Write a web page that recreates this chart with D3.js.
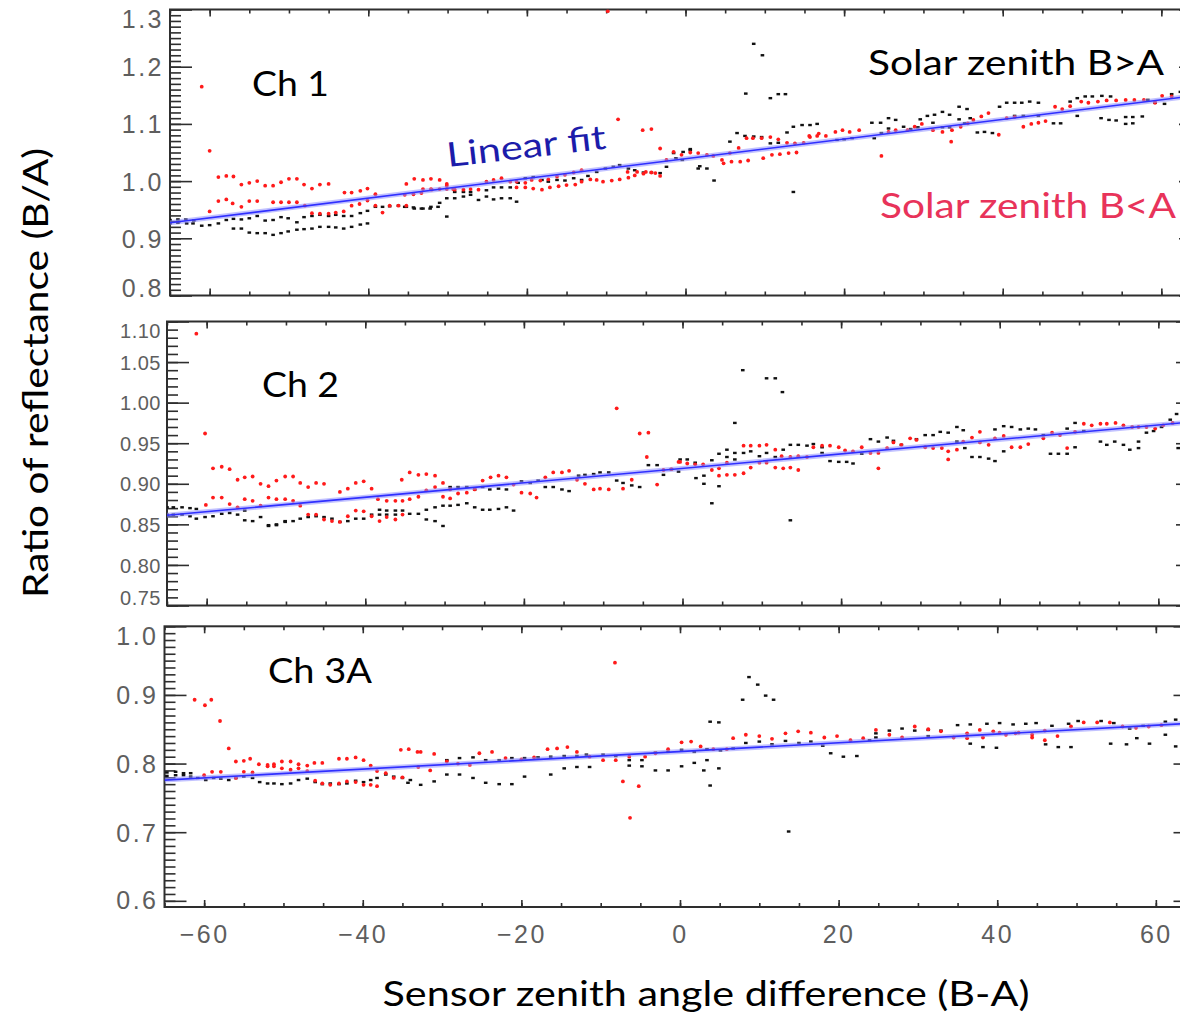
<!DOCTYPE html>
<html>
<head>
<meta charset="utf-8">
<script src="https://cdn.jsdelivr.net/npm/d3@7/dist/d3.min.js"></script>
<style>
  html, body { margin: 0; padding: 0; background: #fff; }
  svg { display: block; }
  .tick text { font-family: "Liberation Sans", Arial, sans-serif; }
</style>
</head>
<body>
<svg id="chart" width="1180" height="1016"></svg>
<script>
// ---- Data -------------------------------------------------------------
// Each point: [sensor zenith angle difference (B-A), ratio of reflectance (B/A)]

const xMajorTicks = [-60, -40, -20, 0, 20, 40, 60];
const ch1Ticks = [0.8, 0.9, 1.0, 1.1, 1.2, 1.3];
const ch2Ticks = [0.75, 0.80, 0.85, 0.90, 0.95, 1.00, 1.05, 1.10];
const ch3Ticks = [0.6, 0.7, 0.8, 0.9, 1.0];

const channelNames = ["Ch 1", "Ch 2", "Ch 3A"];

// Linear fit per channel: ratio = intercept + slope * angle
const fitIntercepts = [1.039, 0.919, 0.8175];
const fitSlopes = [0.00172, 0.00089, 0.00064];

// Ch 1, solar zenith B>A
const ch1Above = [
[-65,.926],[-64,.927],[-62.9,.926],[-62.1,.926],[-61,.922],[-60,.923],[-58.9,.926],[-57.9,.932],[-57,.934],[-56,.933],
[-55,.935],[-54,.939],[-53,.931],[-52,.932],[-51,.937],[-50.1,.935],[-49,.928],[-48.1,.937],[-47.1,.939],[-46.1,.941],
[-45,.939],[-44.1,.941],[-43.1,.939],[-42.1,.939],[-41,.944],[-40.1,.948],[-39.1,.955],[-38.2,.955],[-37.3,.956],[-36.2,.957],
[-35.2,.955],[-34.2,.952],[-33.1,.952],[-32.1,.955],[-31,.962],
[-65,.932],[-64,.933],[-63,.933],[-62,.931],
[-57,.917],[-56,.917],[-55,.910],[-54,.909],[-53,.909],[-52,.906],[-51,.909],[-50.1,.912],[-49,.915],[-48.1,.916],
[-47.1,.917],[-46.1,.920],[-45,.920],[-44.1,.919],[-43.1,.917],[-42.1,.920],[-41,.924],[-40.1,.926],
[-35.4,.955],[-34.3,.954],[-33.3,.952],[-32.2,.952],[-31.2,.955],[-30.1,.938],
[-30.1,.970],[-29.1,.970],[-28,.973],[-27.1,.976],[-26.1,.967],[-25.1,.973],[-24.2,.968],[-23.2,.970],[-22.1,.970],[-21.3,.964],
[-29.1,.981],[-28,.981],[-27.1,.981],[-25.1,.984],[-24.2,.989],[-23.2,.989],[-22.1,.989],[-21.1,.997],[-20.2,1.005],[-19.2,1.007],
[-18.1,1.002],[-17.3,.999],[-16.2,1.002],[-15.2,1.001],[-14.1,1.005],[-13.1,1.002],[-12.3,1.009],[-11.2,1.016],[-10.1,1.022],[-9.1,1.025],
[-8.3,1.028],[-7.2,1.022],[-6.4,1.019],[-5.3,1.015],[-4.3,1.015],[-3.2,1.014],[-2.4,1.025],
[-1.5,1.049],[-0.3,1.051],[0.6,1.056],[1.6,1.022],[2.7,1.022],[3.6,1.001],[-1.2,1.040],[-0.4,1.037],[0.6,1.054],[1.8,1.026],
[5.6,1.069],[6.5,1.084],[7.5,1.079],[8.6,1.078],[9.6,1.077],[10.7,1.066],[11.7,1.067],[12.8,1.085],[13.6,1.095],[14.7,1.098],
[15.7,1.098],[16.6,1.100],[13.6,.981],
[8.6,1.240],[9.7,1.220],[7.6,1.153],[10.7,1.145],[11.7,1.152],[12.6,1.152],
[19.1,1.072],[20,1.073],[21,1.075],[23.8,1.075],[24.7,1.084],[25.6,1.092],[27.5,1.095],[28.4,1.091],[29.3,1.094],[31.2,1.102],
[32.4,1.094],[33.3,1.094],[34.5,1.108],[35.2,1.101],[35.9,1.110],
[23.5,1.102],[24.6,1.102],[25.6,1.110],[26.5,1.107],[29.6,1.108],[30.5,1.114],[31.4,1.116],[32.4,1.121],[33.3,1.116],[34.5,1.130],
[35.5,1.126],[39.6,1.130],[40.5,1.137],[41.5,1.137],[42.4,1.137],[43.4,1.139],[44.5,1.137],[48.5,1.139],[49.4,1.145],[50.4,1.148],
[51.3,1.148],[52.5,1.149],[53.6,1.148],[58.3,1.142],[59.2,1.137],[60.4,1.135],[61.3,1.152],[62.4,1.156],
[36.8,1.085],[37.7,1.086],[38.7,1.084],[41.5,1.114],[42.6,1.114],[44.5,1.114],[46.4,1.101],[47.3,1.101],[49.4,1.114],[52.4,1.110],
[53.4,1.107],[54.3,1.106],[55.5,1.112],[56.4,1.112],[57.6,1.113],[56.4,1.101],[55.5,1.100]
];

// Ch 1, solar zenith B<A
const ch1Below = [
[-61,1.165],[-60,1.053],[-60,.947],[-9.8,1.297],[-8.5,1.108],[-5.4,1.089],[-4.3,1.091],[-3.2,1.057],[24.7,1.044],[33.5,1.069],[39.5,1.081],
[-58.9,1.007],[-57.9,1.009],[-57,1.008],[-56,.994],[-55,.997],[-54,1.000],[-53,.992],[-52,.992],[-51,.998],[-50,1.004],
[-49,1.004],[-48.1,.994],[-47.1,.987],[-46.1,.994],[-45,.995],
[-58.9,.965],[-57.9,.968],[-57.1,.961],[-56,.955],[-55,.965],[-54,.965],[-52,.963],[-51,.963],[-50,.963],[-49,.963],
[-48,.957],[-47.1,.944],[-46.1,.943],[-45,.943],[-44.1,.945],[-43.1,.947],
[-43,.980],[-42.1,.980],[-41,.983],[-40.1,.987],[-39.1,.977],
[-42.1,.957],[-41.1,.960],[-40.1,.966],[-39.1,.957],[-38.2,.945],[-37.3,.957],[-36.2,.957],[-35.2,.957],
[-35.2,.995],[-34.2,1.004],[-33.1,1.002],[-32.1,1.004],[-31,1.002],[-30.1,.995],
[-33.1,.986],[-32.1,.986],[-31,.986],[-30.1,.986],[-29.3,.986],
[-35.4,.976],[-34.3,.977],[-33.3,.979],[-32,.985],[-30.1,.992],[-29.1,.985],[-28,.985],[-27.1,.986],[-26.1,.985],[-25.1,.999],
[-24.2,1.002],[-23.2,1.005],[-22.1,.999],[-21.3,.999],[-20.2,.997],[-19.4,1.002],[-18.3,1.001],[-17.3,1.003],[-16.2,1.008],[-15.2,1.011],
[-14.1,1.015],[-13.1,1.019],
[-21.3,.989],[-20.2,.989],[-19.2,.987],[-18.1,.985],[-17.1,.989],[-16,.991],[-15,.993],[-13.9,.994],[-13.1,.999],[-12,1.003],
[-11.2,1.002],[-10.4,.999],[-9.3,1.001],[-8.3,1.003],[-7.2,1.006],[-6.4,1.010],[-5.3,1.013],[-4.3,1.015],[-3.2,1.009],
[-7.3,1.016],[-6.1,1.016],[-5,1.016],[-3.8,1.014],
[-2.4,1.037],[-1.5,1.051],[-0.5,1.046],[0.6,1.050],[1.6,1.049],[2.7,1.046],[3.5,1.044],[4.6,1.037],[5.6,1.049],[6.7,1.058],
[7.7,1.075],[8.5,1.075],[9.6,1.075],[10.7,1.077],[11.7,1.073],[12.8,1.067],[13.8,1.066],[14.9,1.067],[15.7,1.077],[16.6,1.079],
[4.8,1.031],[5.8,1.034],[6.9,1.034],[7.9,1.036],[9.8,1.040],[10.9,1.046],[11.9,1.047],[13,1.049],[14,1.050],
[15.6,1.079],[16.8,1.083],[17.7,1.079],[18.9,1.086],[19.8,1.089],[20.7,1.086],[21.9,1.089],[25.6,1.086],[26.5,1.089],[28,1.089],
[28.9,1.095],[29.8,1.100],[31.2,1.089],[32.4,1.086],[33.6,1.089],[34.7,1.095],[35.6,1.101],[36.3,1.107],[37.3,1.113],[38.2,1.119],
[40.5,1.110],[41.5,1.112],[42.6,1.095],[43.6,1.100],[44.5,1.102],[45.4,1.105],[46.6,1.130],[47.5,1.126],[48.5,1.131],[49.9,1.139],
[50.8,1.137],[52,1.139],[53.1,1.141],[54.3,1.141],[55.5,1.142],[56.6,1.142],[57.8,1.142],[59.2,1.137],[60.1,1.149],[61.3,1.148]
];

// Ch 2, solar zenith B>A
const ch2Above = [
[-65,.871],[-64.2,.871],[-63.1,.871],[-62.1,.870],[-61.3,.869],
[-65,.862],[-64.2,.862],[-63.1,.862],[-62.1,.860],[-61.3,.857],[-60.2,.859],[-59.2,.860],[-58.1,.863],[-57.1,.864],[-56.1,.862],[-55.2,.867],
[-55.2,.855],[-54.2,.854],[-53.2,.859],[-52.2,.849],[-51.2,.850],[-50.1,.854],[-49.1,.854],[-48.2,.857],[-47.2,.859],[-46.2,.860],
[-45.2,.859],[-44.2,.857],[-43.2,.853],[-42.2,.854],[-41.2,.857],[-40.2,.857],[-39.2,.862],[-38.2,.868],[-37.3,.867],[-36.2,.867],[-35.3,.867],
[-52.2,.848],[-51.2,.849],[-50.1,.853],
[-38.2,.862],[-37.3,.862],[-36.2,.862],[-34.4,.863],[-33.3,.863],[-32.3,.856],[-31.2,.854],[-30.2,.848],
[-32.3,.868],[-31.2,.871],[-30.2,.873],[-29.3,.873],[-28.3,.874],[-27.2,.876],[-26.2,.871],[-25.2,.868],[-24.3,.868],[-23.2,.869],
[-22.2,.871],[-21.3,.867],
[-29.3,.896],[-28.3,.896],[-27.2,.896],[-26.2,.893],[-25.2,.896],[-24.3,.893],[-23.2,.894],[-22.2,.893],[-20.3,.903],[-19.2,.901],
[-18.2,.904],[-17.3,.896],[-16.3,.896],[-15.2,.893],[-14.3,.891],[-13.1,.910],[-12.3,.911],[-11.2,.912],[-10.4,.914],[-9.3,.914],
[-8.3,.904],[-7.5,.901],[-6.4,.898],[-5.4,.896],[-4.3,.923],[-3.2,.923],[-2.4,.911],[-1.4,.918],[-0.5,.915],
[7.6,1.040],[10.6,1.030],[11.7,1.030],[12.6,1.013],[6.6,.975],[13.6,.855],[3.7,.876],[4.6,.897],
[-0.3,.930],[0.6,.930],[1.6,.926],[2.7,.910],[1.7,.907],[2.7,.900],[3.7,.929],[4.6,.937],[5.6,.942],[5.6,.933],
[6.6,.938],[6.6,.930],[7.7,.938],[8.6,.940],[9.7,.934],[10.6,.938],[11.7,.933],[12.7,.942],[13.6,.948],[14.6,.948],
[15.7,.947],[16.5,.949],[17.6,.945],[17.6,.938],[18.6,.928],[19.7,.927],[20.7,.927],[21.5,.925],[22.6,.937],[23.7,.955],
[24.7,.952],[25.8,.957],[26.6,.953],[27.6,.948],[29.5,.955],[30.6,.960],[31.6,.960],[32.5,.964],[33.5,.963],[34.6,.970],
[35.4,.966],[34.6,.952],[35.6,.944],[36.5,.933],[37.5,.933],[38.6,.931],[39.4,.928],[39.4,.967],[40.5,.971],[41.5,.970],
[42.6,.967],[43.6,.968],[44.5,.967],[40.5,.940],[45.5,.960],[46.4,.937],[47.4,.937],[48.5,.937],[48.5,.968],[49.5,.975],
[49.5,.945],[50.6,.965],[52.7,.952],[53.5,.948],[54.5,.952],[55.6,.948],[56.4,.942],[57.5,.944],[57.5,.952],[58.5,.963],
[59.4,.965],[60.4,.970],[61.5,.979],[62.3,.986],[62.5,.944]
];

// Ch 2, solar zenith B<A
const ch2Below = [
[-61.3,1.085],[-60.2,.962],
[-59.2,.919],[-58.1,.921],[-57.1,.918],[-56.1,.905],[-55.2,.908],[-54.2,.909],[-53.2,.900],[-52.2,.897],[-51.2,.904],[-50.1,.909],
[-49.1,.909],[-48.2,.901],[-47.2,.896],[-46.2,.901],[-45.2,.900],[-43.2,.890],[-42.2,.894],[-41.2,.901],[-40.2,.903],[-39.2,.894],
[-60.1,.874],[-59.2,.883],[-58.1,.883],[-57.1,.875],[-56.1,.871],[-55.2,.881],[-54.2,.879],[-53.2,.873],[-52.2,.883],[-51.2,.881],
[-50.1,.881],[-49.1,.879],[-48.2,.873],[-47.2,.862],[-46.2,.862],[-45.2,.856],[-44.2,.854],[-43.2,.853],[-42.2,.860],[-41.2,.867],
[-40.2,.866],[-39.2,.860],[-38.2,.854],[-37.3,.859],[-36.2,.856],[-35.3,.862],
[-38.4,.881],[-37.3,.879],[-36.2,.879],[-35.3,.879],[-34.4,.881],[-33.3,.884],[-32.3,.892],[-31.2,.896],[-30.2,.884],[-29.3,.882],
[-35.4,.905],[-34.4,.914],[-33.3,.911],[-32.3,.912],[-31.2,.910],[-30.2,.901],
[-29.3,.893],[-28.3,.888],[-27.2,.889],[-26.2,.893],[-25.2,.904],[-24.2,.908],[-23.2,.910],[-22.2,.908],[-21.3,.899],[-20.3,.889],
[-19.2,.888],[-18.4,.883],[-17.3,.908],[-16.3,.914],[-15.2,.914],[-14.3,.916],[-13.3,.905],[-12.3,.900],[-11.2,.893],[-10.4,.894],
[-9.3,.893],[-8.3,.993],[-7.5,.894],[-6.4,.905],[-5.4,.962],[-4.3,.963],[-4.5,.933],[-3.2,.899],[-2.4,.917],[-1.4,.918],[-0.5,.927],
[-0.3,.927],[0.6,.925],[1.6,.924],[2.6,.924],[3.7,.917],[4.6,.919],[4.6,.910],[5.6,.911],[6.6,.911],[7.7,.913],
[8.6,.920],[9.7,.926],[10.6,.926],[11.7,.920],[12.7,.919],[13.6,.920],[14.6,.917],[5.6,.926],[7.7,.947],[8.6,.947],
[9.7,.947],[10.6,.948],[11.7,.942],[12.5,.934],[13.6,.933],[14.6,.934],[15.7,.933],[16.5,.945],[17.6,.947],[18.6,.947],
[19.7,.945],[20.5,.941],[21.5,.940],[22.6,.945],[23.7,.938],[24.7,.938],[24.7,.919],[25.8,.944],[26.6,.951],[27.6,.948],
[28.7,.956],[29.5,.954],[30.6,.945],[31.6,.944],[32.7,.944],[33.5,.940],[33.5,.930],[34.6,.942],[35.4,.952],[36.5,.957],
[37.5,.964],[37.5,.951],[38.6,.948],[39.4,.956],[40.5,.959],[41.5,.945],[42.6,.945],[43.6,.949],[45.5,.956],[46.6,.963],
[47.6,.960],[48.5,.944],[49.5,.964],[50.6,.974],[51.6,.972],[52.7,.974],[53.5,.974],[54.6,.975],[55.6,.972],[56.7,.970],
[57.5,.970],[58.5,.970],[59.6,.968],[60.6,.972],[61.8,.975]
];

// Ch 3A, solar zenith B>A
const ch3Above = [
[8.7,.926],[9.8,.915],[10.8,.899],[11.8,.893],[7.9,.893],[3.8,.861],[4.9,.860],[3,.790],[4.9,.793],[3.8,.768],[13.7,.701],
[-64.7,.782],[-63.6,.783],[-62.6,.783],[-61.7,.781],[-60.8,.779],[-59.8,.776],[-58.8,.779],[-57.9,.778],[-56.9,.776],[-56,.779],
[-55,.781],[-53.9,.779],[-53,.773],[-52,.771],[-51.2,.771],[-50.2,.770],[-49.1,.771],[-48.1,.776],[-47,.778],[-46,.773],
[-45.1,.770],[-44.1,.771],[-43,.770],[-42,.771],[-40.9,.775],[-39.9,.773],[-39,.776],[-38.2,.779],[-37.1,.784],[-36.1,.781],
[-35,.779],[-34,.776],
[-64.7,.787],[-63.6,.788],[-62.6,.786],[-61.7,.786],
[-29.4,.805],[-27.8,.808],[-26.1,.809],[-24.5,.805],[-22.8,.805],[-21.2,.808],[-19.6,.808],[-17.9,.809],[-16.3,.810],[-14.6,.811],
[-13,.811],[-11.8,.813],[-9.7,.813],[-8.1,.811],[-6.4,.805],[-4.8,.805],[-3.1,.816],[-1.5,.817],[0.2,.820],[1.8,.817],
[3.4,.821],[5.1,.819],[6.7,.822],
[-29.4,.784],[-27.8,.784],[-26.1,.779],[-24.5,.772],[-22.8,.770],[-21.2,.770],[-31,.774],[-32.7,.769],[-34.3,.772],
[-19.6,.781],[-16.3,.784],[-14.6,.793],[-13,.795],[-11.4,.795],[-6.4,.797],[-4.8,.796],[-3.1,.790],[-1.5,.790],[0.2,.796],
[1.8,.801],[3.4,.805],
[8.3,.830],[10,.832],[11.6,.828],[13.3,.833],[15,.830],[16.5,.832],[18,.826],
[23.9,.834],[24.7,.838],[26.4,.848],[28,.851],[29.6,.848],[31.3,.849],[32.9,.848],[35,.856],[36.6,.857],[38.7,.858],
[40.3,.859],[42,.857],[43.6,.858],[44.9,.859],[46.9,.855],[49,.858],[50.2,.862],[53.1,.862],[54.7,.859],[56.7,.851],
[58.4,.855],[61.2,.861],[62.5,.864],[19,.815],[20.6,.810],[22.3,.811],[36.6,.829],[38.2,.824],[39.9,.823],[46.1,.828],
[47.7,.824],[49.3,.824],[54.3,.829],[56.3,.828],[57.6,.837],[59.2,.829],[61.2,.842],[62.5,.825],[24.7,.844],[31.3,.840]
];

// Ch 3A, solar zenith B<A
const ch3Below = [
[-61.2,.893],[-59.9,.885],[-59.1,.893],[-58,.862],[-56.9,.822],[-8.2,.947],[-7.2,.774],[-5.2,.767],[-6.3,.721],
[-56,.803],[-55,.804],[-54.2,.807],[-53.1,.799],[-52,.798],[-51.2,.799],[-50.2,.803],[-49.1,.803],[-48.1,.799],[-47,.797],
[-46.1,.801],[-45.1,.801],[-43,.807],[-42,.807],[-40.9,.809],[-39.9,.805],[-39,.797],[-35.2,.820],[-34.2,.821],[-33.1,.817],
[-60,.783],[-59,.788],[-57.9,.788],[-56,.779],[-55,.788],[-53.9,.787],[-52,.796],[-51.2,.796],[-50.2,.793],[-49.1,.791],
[-48.1,.793],[-47,.789],[-46,.775],[-45.1,.771],[-44.1,.769],[-43,.771],[-42,.774],[-40.9,.773],[-39.9,.769],[-39,.769],
[-38.2,.767],[-38.2,.789],[-37.1,.786],[-36.1,.779],[-35,.780],
[-32.7,.817],[-31,.814],[-29.4,.803],[-33,.795],[-31.5,.790],[-28,.800],[-26.5,.798],
[-25.3,.815],[-23.7,.817],[-22,.808],[-20,.806],[-18.4,.809],[-16.7,.821],[-15.5,.822],[-14.2,.824],[-13,.817],[-11.4,.810],
[-9.7,.805],[-8.1,.805],[-6.4,.810],[-4.4,.810],[-3.1,.815],[-1.5,.821],[0.2,.831],[1.4,.832],[2.6,.825],[4.2,.821],
[5.9,.821],[6.7,.837],[8.3,.842],[10,.840],[11.6,.836],[13.3,.844],[14.9,.847],[16.5,.845],[18.2,.838],[19.8,.840],[21.5,.834],
[23.1,.837],[24.7,.849],[26.4,.842],[28,.838],[29.6,.854],[31.3,.850],[32.9,.847],[34.5,.838],[36.2,.844],[37.8,.849],
[39.5,.847],[41.1,.842],[42.7,.845],[44.4,.842],[46,.848],[47.6,.840],[49.3,.854],[50.9,.860],[52.6,.860],[54.2,.860],
[55.8,.854],[57.5,.852],[59.1,.854],[60.7,.856],[36.2,.837],[38.2,.838],[40.3,.845],[42.3,.844],[44.4,.838],[46,.834]
];

// ---- Layout ---------------------------------------------------------------
const xDomain = [-65, 65];
const plotWidth = 1031;

const panels = [
  { name: channelNames[0], left: 170,   top: 9.5,   bottom: 295.5, yDomain: [0.8, 1.3],   ticks: ch1Ticks, fmt: ".1f",
    above: ch1Above, below: ch1Below, label: [252, 96], labelWidth: 77, tickFont: 25, tickSpacing: 2.5 },
  { name: channelNames[1], left: 167,   top: 321.5, bottom: 605.5, yDomain: [0.75, 1.10], ticks: ch2Ticks, fmt: ".2f",
    above: ch2Above, below: ch2Below, label: [262, 397], labelWidth: 77, tickFont: 20, tickSpacing: 0.5 },
  { name: channelNames[2], left: 164.5, top: 626.3, bottom: 907,   yDomain: [0.591, 1.0], ticks: ch3Ticks, fmt: ".1f",
    above: ch3Above, below: ch3Below, label: [268, 683], labelWidth: 104, tickFont: 25, tickSpacing: 2.5 }
];

const svg = d3.select("#chart");
const defs = svg.append("defs");
const annoFont = "Lato, 'Open Sans', sans-serif";
const frameColor = "#2e2e2e";
const labelColor = "#5e5e5e";

panels.forEach((p, i) => {
  const x = d3.scaleLinear().domain(xDomain).range([p.left, p.left + plotWidth]);
  const y = d3.scaleLinear().domain(p.yDomain).range([p.bottom, p.top]);
  const g = svg.append("g");

  const clipId = "clip" + i;
  defs.append("clipPath").attr("id", clipId)
    .append("rect")
    .attr("x", p.left).attr("y", p.top)
    .attr("width", plotWidth).attr("height", p.bottom - p.top);

  // minor ticks every 0.01 on the ratio axis, every 5 degrees on the angle axis
  const yMinor = d3.range(Math.ceil(p.yDomain[0] * 100 - 1e-6), Math.floor(p.yDomain[1] * 100 + 1e-6) + 1)
    .map(v => v / 100);
  const xMinor = d3.range(-65, 66, 5);

  const styleAxis = sel => {
    sel.select(".domain").remove();
    sel.selectAll(".tick line").attr("stroke", frameColor).attr("stroke-width", 1.6);
  };

  // left axis: minor + major ticks pointing inward, labels outside
  g.append("g").attr("transform", `translate(${p.left},0)`)
    .call(d3.axisLeft(y).tickValues(yMinor).tickSize(-11).tickFormat(""))
    .call(styleAxis);
  const leftMajor = g.append("g").attr("transform", `translate(${p.left},0)`)
    .call(d3.axisLeft(y).tickValues(p.ticks).tickSize(-22).tickPadding(6).tickFormat(d3.format(p.fmt)))
    .call(styleAxis);
  // labels are centred on their ticks, but kept inside the frame's height
  leftMajor.selectAll(".tick text")
    .attr("font-size", p.tickFont).attr("fill", labelColor)
    .attr("letter-spacing", p.tickSpacing + "px")
    .attr("dy", "0.36em")
    .attr("y", d => {
      const c = y(d);
      const lo = p.top + 9, hi = p.bottom - 8;
      return Math.min(hi, Math.max(lo, c)) - c;
    });

  // right axis
  g.append("g").attr("transform", `translate(${p.left + plotWidth},0)`)
    .call(d3.axisRight(y).tickValues(yMinor).tickSize(-11).tickFormat(""))
    .call(styleAxis);
  g.append("g").attr("transform", `translate(${p.left + plotWidth},0)`)
    .call(d3.axisRight(y).tickValues(p.ticks).tickSize(-22).tickFormat(""))
    .call(styleAxis);

  // top and bottom angle ticks
  g.append("g").attr("transform", `translate(0,${p.top})`)
    .call(d3.axisTop(x).tickValues(xMinor).tickSize(-4).tickFormat(""))
    .call(styleAxis);
  g.append("g").attr("transform", `translate(0,${p.top})`)
    .call(d3.axisTop(x).tickValues(xMajorTicks).tickSize(-7).tickFormat(""))
    .call(styleAxis);
  g.append("g").attr("transform", `translate(0,${p.bottom})`)
    .call(d3.axisBottom(x).tickValues(xMinor).tickSize(-4).tickFormat(""))
    .call(styleAxis);
  const bottomMajor = g.append("g").attr("transform", `translate(0,${p.bottom})`)
    .call(d3.axisBottom(x).tickValues(xMajorTicks).tickSize(-7).tickPadding(18)
      .tickFormat(i === panels.length - 1 ? (d => d3.format("d")(d).replace("-", "\u2212")) : ""))
    .call(styleAxis);
  bottomMajor.selectAll(".tick text")
    .attr("font-size", 25).attr("fill", labelColor)
    .attr("letter-spacing", "2.5px");

  // frame
  g.append("rect")
    .attr("x", p.left).attr("y", p.top)
    .attr("width", plotWidth).attr("height", p.bottom - p.top)
    .attr("fill", "none").attr("stroke", frameColor).attr("stroke-width", 2);

  const plot = g.append("g").attr("clip-path", `url(#${clipId})`);

  // solar zenith B>A (black)
  plot.append("g").selectAll("rect")
    .data(p.above).join("rect")
    .attr("x", d => x(d[0]) - 1.8).attr("y", d => y(d[1]) - 1.2)
    .attr("width", 3.6).attr("height", 2.4)
    .attr("fill", "#111");

  // solar zenith B<A (red)
  plot.append("g").selectAll("circle")
    .data(p.below).join("circle")
    .attr("cx", d => x(d[0])).attr("cy", d => y(d[1]))
    .attr("r", 1.9)
    .attr("fill", "#ff1a1a");

  // linear fit
  const fitLine = d3.line().x(d => x(d)).y(d => y(fitIntercepts[i] + fitSlopes[i] * d));
  plot.append("path").datum(xDomain)
    .attr("d", fitLine).attr("fill", "none")
    .attr("stroke", "#8f8fff").attr("stroke-opacity", 0.55).attr("stroke-width", 5);
  plot.append("path").datum(xDomain)
    .attr("d", fitLine).attr("fill", "none")
    .attr("stroke", "#2f2fff").attr("stroke-width", 1.6);

  // channel label
  svg.append("text")
    .attr("x", p.label[0]).attr("y", p.label[1])
    .attr("font-family", annoFont).attr("font-size", 35)
    .attr("textLength", p.labelWidth).attr("lengthAdjust", "spacingAndGlyphs")
    .attr("fill", "#000")
    .text(p.name);
});

// ---- Annotations ---------------------------------------------------------
svg.append("text")
  .attr("x", 868).attr("y", 75)
  .attr("font-family", annoFont).attr("font-size", 34)
  .attr("textLength", 296).attr("lengthAdjust", "spacingAndGlyphs")
  .attr("fill", "#000")
  .text("Solar zenith B>A");

svg.append("text")
  .attr("x", 880).attr("y", 218)
  .attr("font-family", annoFont).attr("font-size", 34)
  .attr("textLength", 296).attr("lengthAdjust", "spacingAndGlyphs")
  .attr("fill", "#e8335a")
  .text("Solar zenith B<A");

svg.append("text")
  .attr("transform", "translate(448,167) rotate(-6.6)")
  .attr("font-family", annoFont).attr("font-size", 34)
  .attr("textLength", 160).attr("lengthAdjust", "spacingAndGlyphs")
  .attr("fill", "#1c1caa")
  .text("Linear fit");

svg.append("text")
  .attr("transform", "translate(48,373) rotate(-90)")
  .attr("text-anchor", "middle")
  .attr("font-family", annoFont).attr("font-size", 34)
  .attr("textLength", 450).attr("lengthAdjust", "spacingAndGlyphs")
  .attr("fill", "#000")
  .text("Ratio of reflectance (B/A)");

svg.append("text")
  .attr("x", 706).attr("y", 1006)
  .attr("text-anchor", "middle")
  .attr("font-family", annoFont).attr("font-size", 34)
  .attr("textLength", 647).attr("lengthAdjust", "spacingAndGlyphs")
  .attr("fill", "#000")
  .text("Sensor zenith angle difference (B-A)");
</script>
</body>
</html>
